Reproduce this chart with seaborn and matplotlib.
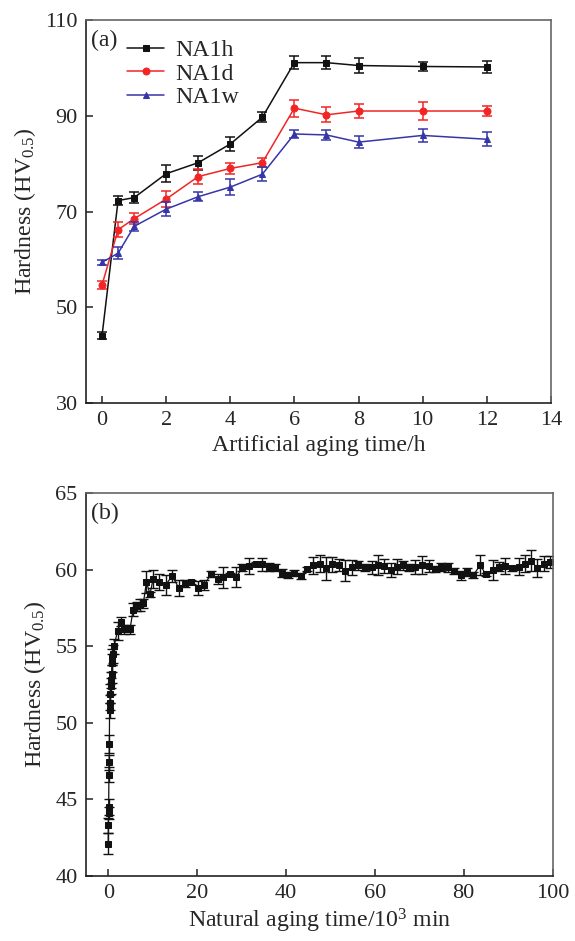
import numpy as np
import pandas as pd
import matplotlib
matplotlib.use("Agg")
import matplotlib.pyplot as plt
import seaborn as sns

# --- panel (a): artificial aging ---
aa_time = [0, 0.5, 1, 2, 3, 4, 5, 6, 7, 8, 10, 12]
na1h_val = [44.1, 72.3, 72.9, 77.9, 80.2, 84.1, 89.7, 101.1, 101.1, 100.5, 100.3, 100.2]
na1h_err = [0.8, 1.0, 1.2, 1.8, 1.5, 1.4, 1.0, 1.3, 1.4, 1.6, 1.0, 1.2]
na1d_val = [54.7, 66.2, 68.5, 72.6, 77.3, 79.0, 80.2, 91.6, 90.2, 91.0, 91.0, 91.0]
na1d_err = [0.8, 1.6, 1.2, 1.7, 1.5, 1.2, 1.0, 1.8, 1.6, 1.4, 1.8, 1.0]
na1w_val = [59.4, 61.3, 66.9, 70.5, 73.1, 75.1, 77.8, 86.2, 86.0, 84.5, 85.9, 85.1]
na1w_err = [0.5, 1.3, 1.0, 1.5, 1.0, 1.7, 1.5, 0.8, 1.0, 1.2, 1.4, 1.5]
series_names = ["NA1h", "NA1d", "NA1w"]

# --- panel (b): natural aging ---
na_time = [0.0, 0.03, 0.06, 0.1, 0.15, 0.2, 0.25, 0.3, 0.35, 0.45, 0.55, 0.65,
           0.75, 0.85, 0.95, 1.1, 1.3,
           2.1, 2.9, 3.6, 4.9, 5.6, 6.4, 7.1, 7.9, 8.6, 9.4, 10.1, 11.5, 12.9,
           14.4, 15.9, 17.2, 18.7, 20.2, 21.6, 23.1, 24.6, 25.9, 27.3, 28.8,
           30.2, 31.7, 33.2, 34.5, 36.1, 37.5, 39.0, 40.4, 41.8, 43.3, 44.8,
           46.2, 47.6, 49.1, 50.4, 51.9, 53.4, 54.8, 56.3, 57.8, 59.3, 60.7,
           62.0, 63.6, 64.9, 66.3, 67.8, 69.1, 70.6, 72.1, 73.6, 74.9, 76.4,
           77.8, 79.3, 80.7, 82.2, 83.7, 85.0, 86.5, 88.0, 89.4, 90.9, 92.4,
           93.7, 95.1, 96.6, 98.1, 99.4]
na_val = [42.1, 43.3, 44.1, 44.5, 46.6, 47.4, 48.6, 50.8, 51.3, 51.9, 52.4, 52.8,
          53.2, 53.9, 54.3, 54.5, 55.0,
          56.0, 56.6, 56.1, 56.1, 57.4, 57.6, 57.7, 57.8, 59.2, 58.4, 59.4, 59.2, 59.0,
          59.6, 58.8, 59.1, 59.2, 58.8, 59.0, 59.7, 59.4, 59.5, 59.7, 59.5,
          60.15, 60.25, 60.4, 60.35, 60.2, 60.15, 59.8, 59.65, 59.8, 59.6, 60.05,
          60.3, 60.4, 60.1, 60.35, 60.3, 59.95, 60.15, 60.3, 60.15, 60.15, 60.3,
          60.25, 60.0, 60.2, 60.3, 60.15, 60.2, 60.3, 60.25, 60.05, 60.2, 60.15,
          59.9, 59.65, 59.85, 59.65, 60.3, 59.7, 60.0, 60.2, 60.25, 60.1, 60.2,
          60.4, 60.6, 60.1, 60.4, 60.5]
na_err = [0.7, 0.5, 0.4, 0.5, 0.5, 0.5, 0.6, 0.5, 0.5, 0.6, 0.5, 0.5,
          0.6, 0.6, 0.5, 0.6, 0.5,
          0.6, 0.3, 0.3, 0.3, 0.4, 0.3, 0.4, 0.3, 0.7, 0.15, 0.6, 0.55, 0.65,
          0.4, 0.5, 0.25, 0.15, 0.45, 0.35, 0.2, 0.3, 0.7, 0.1, 0.65,
          0.2, 0.5, 0.1, 0.45, 0.25, 0.2, 0.25, 0.2, 0.2, 0.2, 0.1,
          0.55, 0.55, 0.75, 0.5, 0.4, 0.7, 0.5, 0.3, 0.2, 0.45, 0.65,
          0.45, 0.45, 0.5, 0.3, 0.2, 0.45, 0.6, 0.4, 0.2, 0.25, 0.3,
          0.2, 0.3, 0.25, 0.2, 0.65, 0.1, 0.65, 0.3, 0.55, 0.15, 0.55,
          0.55, 0.7, 0.6, 0.5, 0.4]

sns.set_style("ticks")
plt.rcParams['font.family'] = ['Liberation Serif', 'DejaVu Serif']
plt.rcParams['mathtext.fontset'] = 'custom'
plt.rcParams['mathtext.rm'] = 'Liberation Serif'
plt.rcParams['mathtext.it'] = 'Liberation Serif:italic'
plt.rcParams['mathtext.default'] = 'regular'

FS = 16      # tick labels
LFS = 17.2   # axis labels, legend, panel tags

fig = plt.figure(figsize=(5.75, 9.41), dpi=100)
ax1 = fig.add_axes([0.1496, 0.5717, 0.8084, 0.4070])
ax2 = fig.add_axes([0.1496, 0.0694, 0.8113, 0.4064])


def style_axes(ax):
    for side in ["left", "bottom"]:
        ax.spines[side].set_color("#222222")
        ax.spines[side].set_linewidth(1.2)
    for side in ["top", "right"]:
        ax.spines[side].set_visible(True)
        ax.spines[side].set_color("#666666")
        ax.spines[side].set_linewidth(1.2)
    ax.tick_params(direction="in", length=5, width=1.1, labelsize=FS,
                   top=False, right=False, color="#222222", pad=6)
    ax.set_ylabel("Hardness (HV$_{0.5}$)", fontsize=LFS, labelpad=5)


# panel (a)
vals = [na1h_val, na1d_val, na1w_val]
errs = [na1h_err, na1d_err, na1w_err]
colors = ["#111111", "#f22525", "#3636a8"]
markers = ["s", "o", "^"]
for name, v, e, c, m in zip(series_names, vals, errs, colors, markers):
    df = pd.DataFrame({"time": aa_time, "hardness": v})
    sns.lineplot(data=df, x="time", y="hardness", ax=ax1, color=c, marker=m,
                 markersize=5, markeredgecolor=c, linewidth=1.1, label=name)
    ax1.errorbar(aa_time, v, yerr=e, fmt="none", ecolor=c, elinewidth=1.1,
                 capsize=3.5, capthick=1.1)

ax1.set_xlim(-0.5, 14)
ax1.set_ylim(30, 110)
ax1.set_xticks(np.arange(0, 15, 2))
ax1.set_yticks([30, 50, 70, 90, 110])
ax1.set_xlabel("Artificial aging time/h", fontsize=LFS, labelpad=3)
style_axes(ax1)
ax1.legend(loc="upper left", bbox_to_anchor=(0.078, 0.962), frameon=False,
           fontsize=LFS, handlelength=1.55, handletextpad=0.45,
           labelspacing=0.08, borderaxespad=0, borderpad=0.2)
ax1.text(0.01, 0.947, "(a)", transform=ax1.transAxes, fontsize=LFS,
         va="center", ha="left")

# panel (b)
dfb = pd.DataFrame({"time": na_time, "hardness": na_val})
sns.lineplot(data=dfb, x="time", y="hardness", ax=ax2, color="#111111",
             marker="s", markersize=4.8, markeredgecolor="#111111",
             linewidth=0.9, legend=False)
ax2.errorbar(na_time, na_val, yerr=na_err, fmt="none", ecolor="#111111",
             elinewidth=1.0, capsize=3.3, capthick=1.0)
ax2.set_xlim(-5, 100)
ax2.set_ylim(40, 65)
ax2.set_xticks(np.arange(0, 101, 20))
ax2.set_yticks(np.arange(40, 66, 5))
ax2.set_xlabel("Natural aging time/10$^3$ min", fontsize=LFS, labelpad=3)
style_axes(ax2)
ax2.text(0.01, 0.947, "(b)", transform=ax2.transAxes, fontsize=LFS,
         va="center", ha="left")

fig.savefig("out.png", dpi=100)
